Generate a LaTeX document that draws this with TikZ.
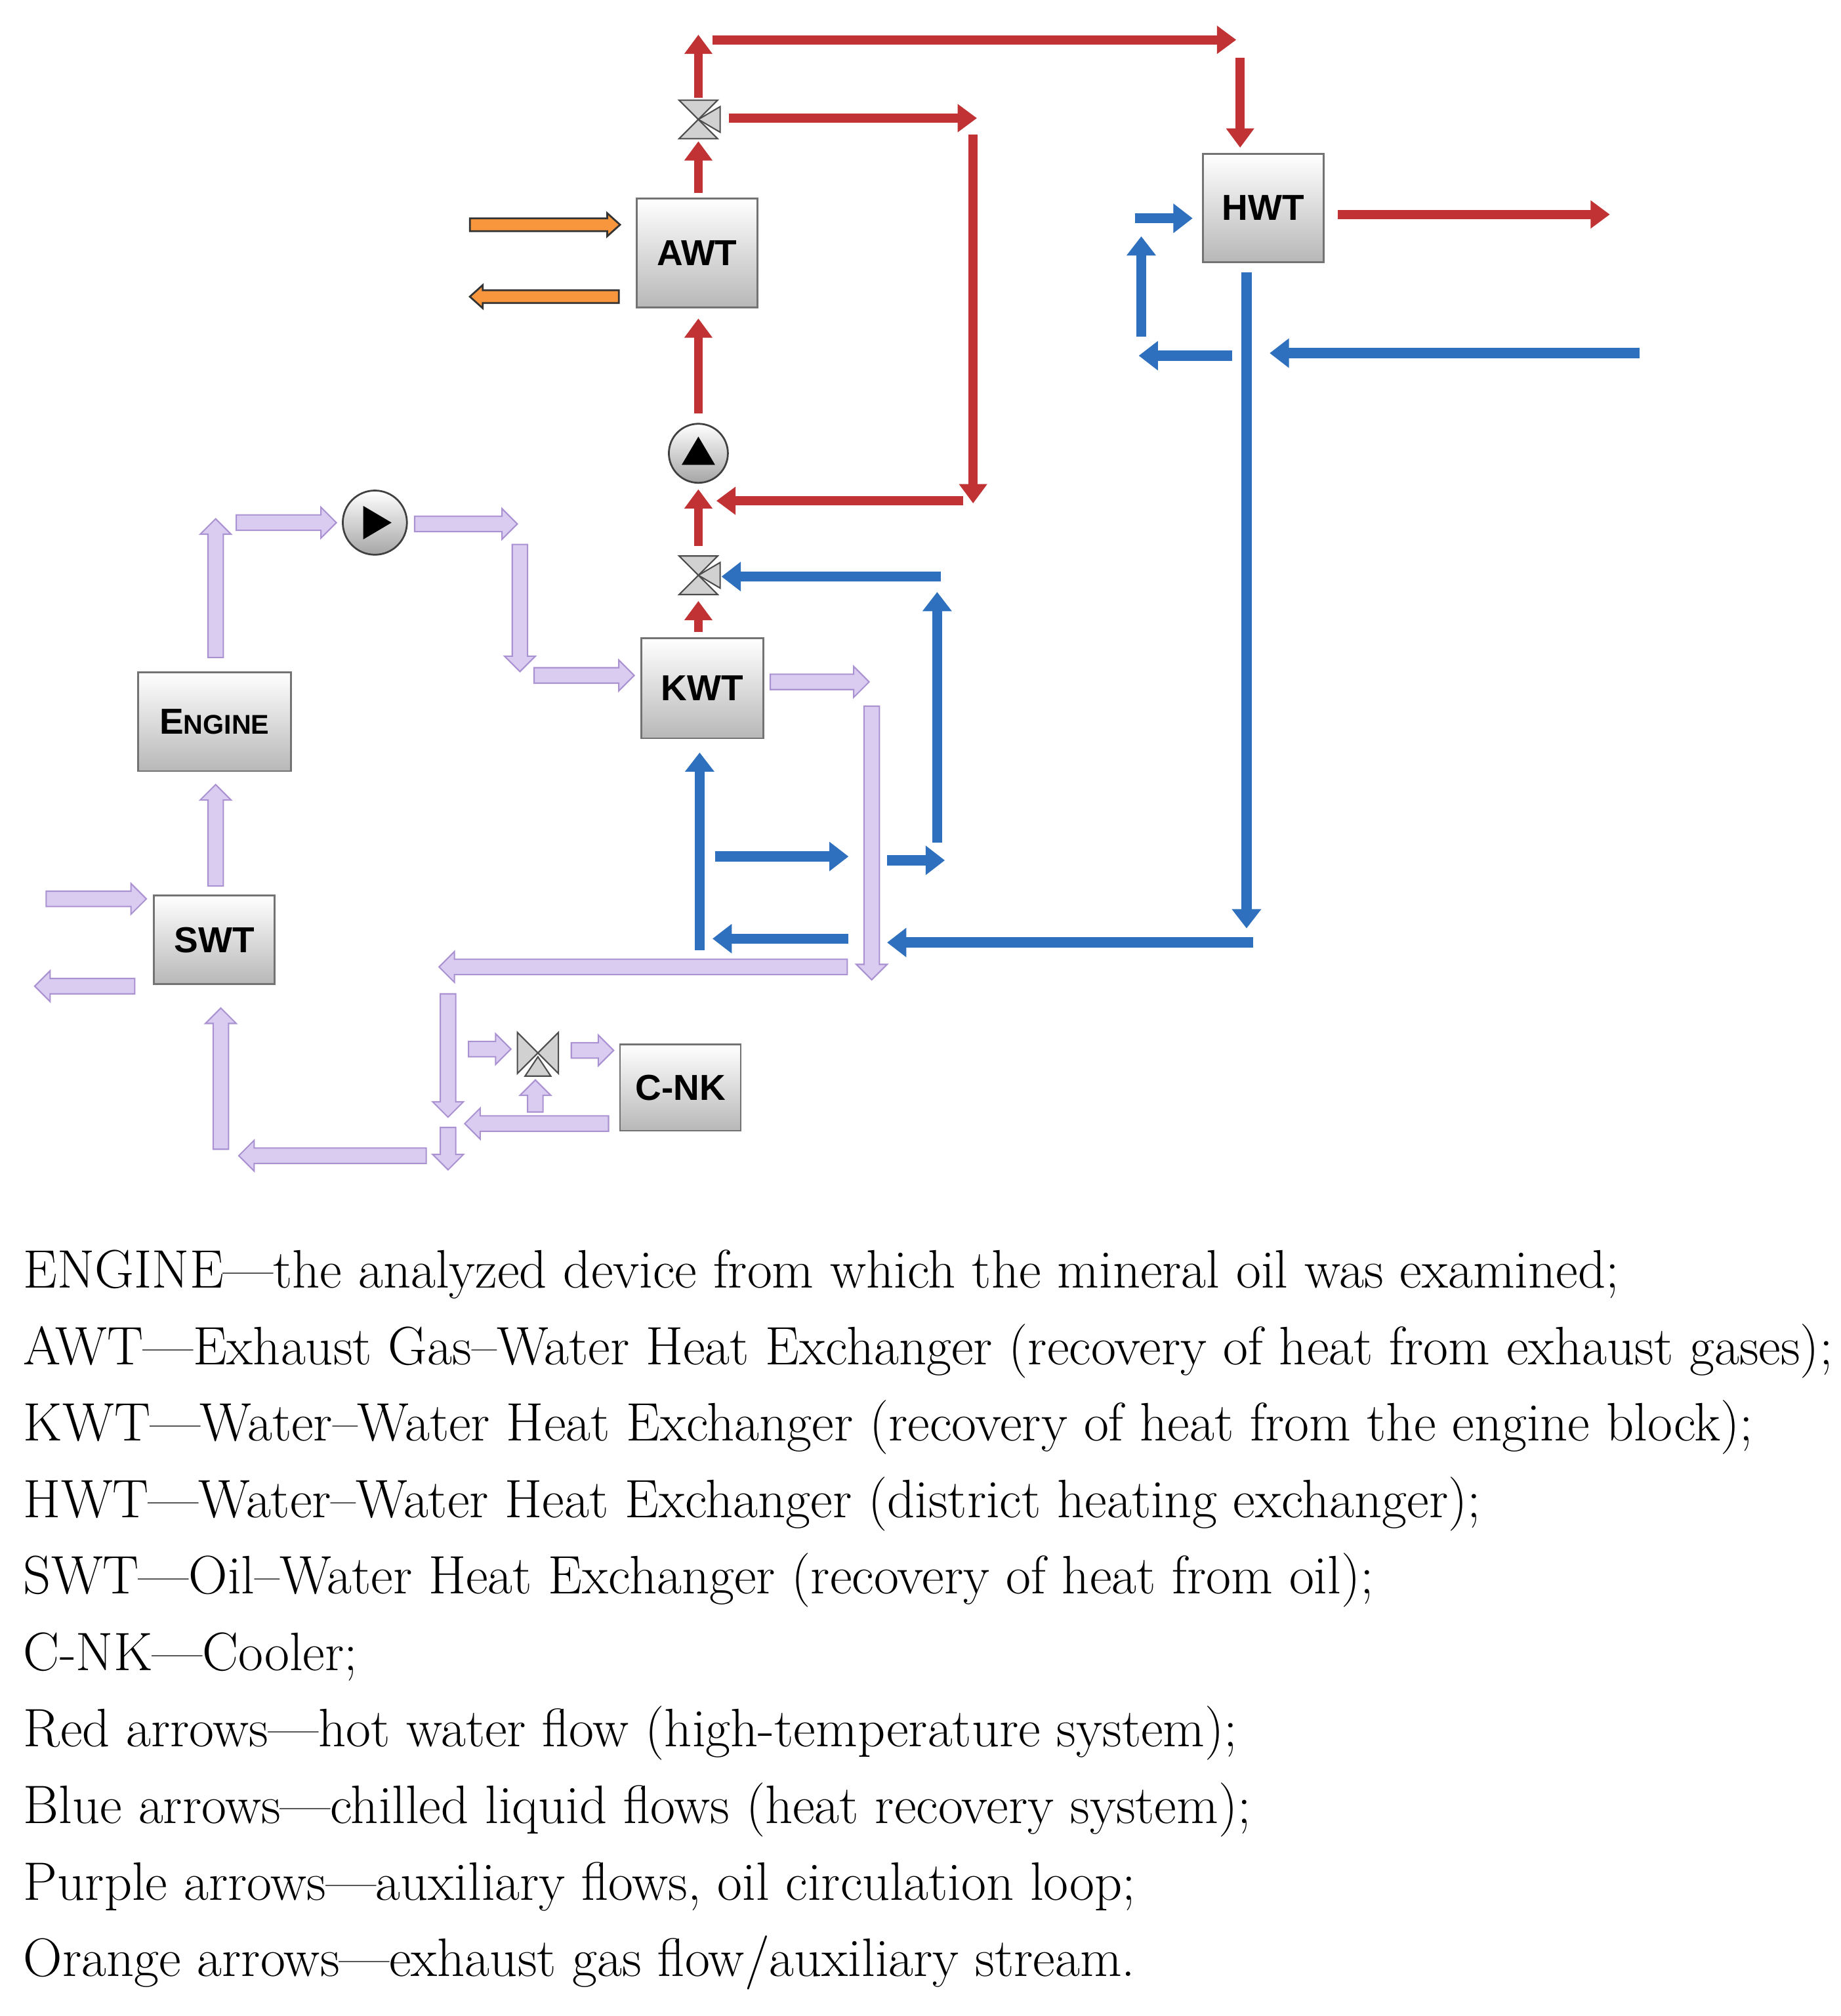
\documentclass[tikz,border=0pt]{standalone}
\usepackage{fontspec}
\newfontfamily\lab{Liberation Sans}
\usetikzlibrary{arrows.meta}
\definecolor{rd}{RGB}{192,50,52}
\definecolor{bl}{RGB}{46,112,190}
\definecolor{pf}{RGB}{218,204,240}
\definecolor{pd}{RGB}{170,145,210}
\definecolor{of}{RGB}{247,150,60}
\newcommand\blk[8]{%
\pgfmathsetmacro\dx{#7-#5}\pgfmathsetmacro\dy{#8-#6}%
\pgfmathsetmacro\ln{veclen(\dx,\dy)}%
\pgfmathsetmacro\ux{\dx/\ln}\pgfmathsetmacro\uy{\dy/\ln}%
\pgfmathsetmacro\bx{#7-#3*\ux}\pgfmathsetmacro\by{#8-#3*\uy}%
\pgfmathsetmacro\qx{-\uy}\pgfmathsetmacro\qy{\ux}%
\path[#4] (#5+#1*\qx,#6+#1*\qy) -- (\bx+#1*\qx,\by+#1*\qy) -- (\bx+#2*\qx,\by+#2*\qy) -- (#7,#8)
 -- (\bx-#2*\qx,\by-#2*\qy) -- (\bx-#1*\qx,\by-#1*\qy) -- (#5-#1*\qx,#6-#1*\qy) -- cycle;}
\newcommand\parr[4]{\blk{6}{12}{12}{fill=pf,draw=pd,line width=0.6pt}{#1}{#2}{#3}{#4}}
\newcommand\oarr[4]{\blk{5}{9}{10}{fill=of,draw=black!80,line width=0.8pt}{#1}{#2}{#3}{#4}}
\tikzset{
 box/.style={draw=black!55,line width=0.8pt,top color=white,bottom color=black!28,font=\lab\bfseries\fontsize{16}{18}\selectfont,inner sep=0pt},
 ra/.style={draw=rd,line width=0.14cm,-{Triangle[length=0.3cm,width=0.42cm]}},
 ba/.style={draw=bl,line width=0.16cm,-{Triangle[length=0.3cm,width=0.44cm]}},
 vt/.style={draw=black!70,line width=0.6pt,fill=black!18},
 leg/.style={anchor=base west,inner sep=0pt,font=\fontsize{24}{28}\selectfont}
}
\begin{document}
\begin{tikzpicture}[x=0.02cm,y=-0.02cm]
\useasboundingbox[fill=white] (0,0) rectangle (1434,1570);
% boxes
\node[box,minimum width=1.88cm,minimum height=1.7cm] (awt) at (543,197) {AWT};
\node[box,minimum width=1.88cm,minimum height=1.68cm] (hwt) at (984,162) {HWT};
\node[box,minimum width=1.9cm,minimum height=1.56cm] (kwt) at (547,536) {KWT};
\node[box,minimum width=2.38cm,minimum height=1.54cm] (eng) at (167,562) {E{\fontsize{12}{14}\selectfont NGINE}};
\node[box,minimum width=1.88cm,minimum height=1.38cm] (swt) at (167,732) {SWT};
\node[box,minimum width=1.88cm,minimum height=1.34cm] (cnk) at (530,847) {C-NK};
% red
\draw[ra] (544,150) -- (544,110);
\draw[ra] (544,76) -- (544,27);
\draw[ra] (555,31) -- (963,31);
\draw[ra] (966,45) -- (966,115);
\draw[ra] (568,92) -- (761,92);
\draw[ra] (758,105) -- (758,392);
\draw[ra] (750,390) -- (558,390);
\draw[ra] (544,322) -- (544,248);
\draw[ra] (544,425) -- (544,381);
\draw[ra] (544,492) -- (544,468);
\draw[ra] (1042,167) -- (1254,167);
% valves
\path[vt] (529,78) -- (559,78) -- (544,93) -- cycle;
\path[vt] (529,108) -- (559,108) -- (544,93) -- cycle;
\path[vt] (544,93) -- (561,83) -- (561,103) -- cycle;
\path[vt] (529,433) -- (559,433) -- (544,448) -- cycle;
\path[vt] (529,463) -- (559,463) -- (544,448) -- cycle;
\path[vt] (544,448) -- (561,438) -- (561,458) -- cycle;
\path[vt] (403,804) -- (403,836) -- (419,820) -- cycle;
\path[vt] (435,804) -- (435,836) -- (419,820) -- cycle;
\path[vt] (409,838) -- (429,838) -- (419,823) -- cycle;
% pumps
\node[circle,draw=black!75,line width=0.8pt,minimum size=0.92cm,inner sep=0pt,top color=white,bottom color=black!35] (p1) at (544,353) {};
\fill (531,362) -- (557,362) -- (544,340) -- cycle;
\node[circle,draw=black!75,line width=0.8pt,minimum size=1.0cm,inner sep=0pt,top color=white,bottom color=black!35] (p2) at (292,407) {};
\fill (283,394) -- (283,420) -- (305,407) -- cycle;
% blue
\draw[ba] (884,170) -- (929,170);
\draw[ba] (889,262) -- (889,184);
\draw[ba] (960,277) -- (887,277);
\draw[ba] (1277,275) -- (989,275);
\draw[ba] (971,212) -- (971,723);
\draw[ba] (976,734) -- (691,734);
\draw[ba] (661,731) -- (555,731);
\draw[ba] (545,740) -- (545,586);
\draw[ba] (557,667) -- (661,667);
\draw[ba] (691,670) -- (736,670);
\draw[ba] (730,656) -- (730,461);
\draw[ba] (733,449) -- (562,449);
% orange
\oarr{366}{175}{483}{175}
\oarr{482}{231}{366}{231}
% purple
\parr{168}{512}{168}{404}
\parr{184}{407}{262}{407}
\parr{323}{408}{403}{408}
\parr{405}{424}{405}{523}
\parr{416}{526}{494}{526}
\parr{600}{531}{677}{531}
\parr{679}{550}{679}{763}
\parr{660}{753}{342}{753}
\parr{349}{774}{349}{870}
\parr{349}{878}{349}{911}
\parr{332}{900}{186}{900}
\parr{172}{895}{172}{785}
\parr{168}{690}{168}{611}
\parr{36}{700}{114}{700}
\parr{105}{768}{27}{768}
\parr{365}{817}{398}{817}
\parr{445}{818}{478}{818}
\parr{474}{875}{362}{875}
\parr{417}{866}{417}{841}
% legend
\node[leg] (l1) at (18,1003) {ENGINE---the analyzed device from which the mineral oil was examined;};
\node[leg] (l2) at (18,1063) {AWT---Exhaust Gas--Water Heat Exchanger (recovery of heat from exhaust gases);};
\node[leg] (l3) at (18,1122) {KWT---Water--Water Heat Exchanger (recovery of heat from the engine block);};
\node[leg] (l4) at (18,1182) {HWT---Water--Water Heat Exchanger (district heating exchanger);};
\node[leg] (l5) at (18,1241) {SWT---Oil--Water Heat Exchanger (recovery of heat from oil);};
\node[leg] (l6) at (18,1301) {C-NK---Cooler;};
\node[leg] (l7) at (18,1360) {Red arrows---hot water flow (high-temperature system);};
\node[leg] (l8) at (18,1420) {Blue arrows---chilled liquid flows (heat recovery system);};
\node[leg] (l9) at (18,1480) {Purple arrows---auxiliary flows, oil circulation loop;};
\node[leg] (l10) at (18,1539) {Orange arrows---exhaust gas flow/auxiliary stream.};
\end{tikzpicture}
\end{document}
